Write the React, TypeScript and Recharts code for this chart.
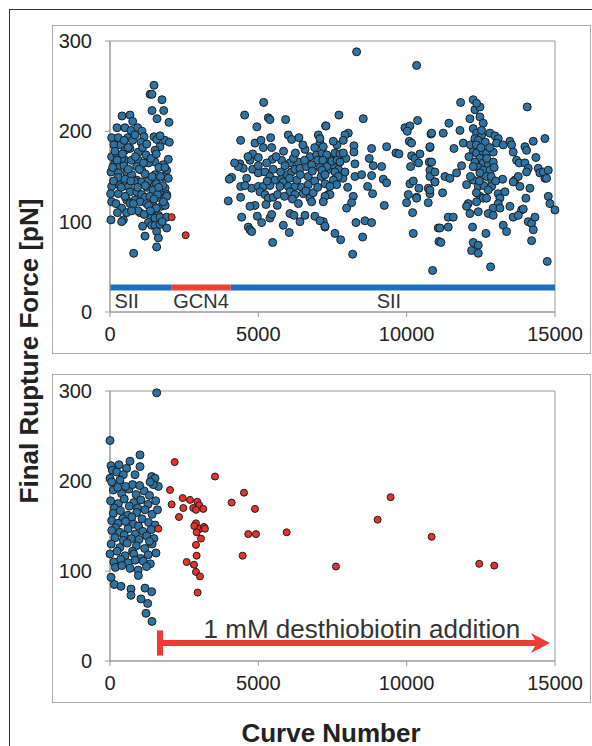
import React from 'react';
import {
  ScatterChart,
  Scatter,
  XAxis,
  YAxis,
  ReferenceArea,
  ReferenceLine,
  ReferenceDot,
} from 'recharts';

// curve number, final rupture force [pN]
const topSII: [number, number][] = [
  // first SII block (curves 0-2000)
  [1483, 251], [1350, 241], [1415, 241], [1752, 235], [1415, 223], [1810, 223], [1584, 214], [1988, 210],
  [404, 217], [674, 218], [765, 211], [236, 204], [505, 204], [708, 201], [933, 204], [1079, 200],
  [56, 193], [281, 193], [596, 193], [1146, 194], [1483, 194], [1573, 191], [1854, 190], [1999, 188], [1045, 188],
  [135, 185], [370, 185], [505, 179], [674, 181], [1685, 183], [1517, 179], [955, 177], [56, 172], [236, 174], [1213, 174],
  [505, 168], [731, 168], [955, 168], [1965, 169], [1517, 166], [135, 163], [303, 162], [472, 162], [1796, 163], [1910, 157],
  [899, 161], [1068, 157], [34, 155], [281, 154], [562, 155], [731, 152], [1180, 153], [1517, 152], [1796, 150], [1965, 148],
  [281, 149], [505, 147], [899, 146], [1068, 144], [1348, 142], [1573, 142], [56, 139], [618, 139], [1247, 138], [1450, 135], [1730, 134],
  [1854, 137], [1910, 130], [22, 131], [281, 131], [674, 133], [899, 133], [1068, 130], [1180, 127], [1348, 128], [1630, 127], [1910, 128],
  [562, 124], [843, 124], [506, 128], [56, 122], [1012, 122], [1236, 120], [1450, 118], [1730, 117], [674, 120], [787, 120], [393, 115],
  [562, 110], [450, 102], [393, 100], [1012, 110], [1450, 111], [1630, 107], [1405, 105], [1517, 104], [1685, 105], [1910, 105], [34, 102],
  [1292, 99], [1405, 96], [1517, 96], [1685, 97], [1910, 93], [1573, 89], [1630, 82], [1180, 84], [1573, 72], [798, 65],
  [170, 178], [400, 170], [620, 158], [820, 145], [1300, 165], [1650, 160], [1100, 182], [760, 190], [330, 140],
  [1290, 145], [1600, 130], [200, 120], [1780, 140], [950, 112], [1150, 108],
  [90, 160], [240, 168], [420, 175], [610, 182], [860, 172], [990, 158], [1130, 165], [1380, 170], [1560, 175], [1700, 150],
  [1850, 160], [120, 145], [380, 138], [700, 145], [930, 138], [1190, 140], [1420, 150], [1640, 138], [1860, 118], [250, 110],
  [730, 112], [1300, 118], [1560, 115], [1760, 100], [1100, 95], [480, 190], [840, 196], [1240, 186], [1690, 195], [1360, 112],
  [1480, 125], [1800, 122],
  // second SII block (curves 4000-15000)
  [5180, 232], [4538, 218], [5336, 215], [5392, 213], [5920, 213], [4954, 205], [4404, 190], [4887, 187], [5089, 190], [5415, 193],
  [6009, 196], [6123, 191], [6369, 193], [7268, 206], [5168, 182], [5449, 182], [4808, 175], [4718, 168], [4999, 171], [5471, 169], [5280, 165],
  [5785, 168], [6066, 165], [6347, 166], [6572, 180], [6740, 172], [6965, 174], [7077, 187], [7021, 196], [4381, 164], [4493, 159], [4325, 161],
  [4808, 158], [4999, 154], [5224, 155], [4606, 148], [4100, 149], [4021, 147], [5392, 150], [5561, 146], [5785, 147],
  [5954, 152], [6123, 155], [6234, 158], [6403, 159], [6628, 161], [6797, 163], [7077, 160], [7302, 165],
  [4775, 137], [4999, 139], [5168, 139], [5392, 140], [5842, 144], [6009, 139], [6234, 139], [6459, 138], [6684, 141], [5729, 139],
  [4404, 139], [4404, 127], [3987, 123], [5055, 133], [5224, 130], [5336, 126], [5505, 127], [6066, 133], [6234, 130], [6515, 131], [6740, 126], [6797, 122],
  [4887, 118], [4718, 117], [5257, 119], [5639, 118], [6066, 109], [6201, 107], [6572, 107], [6908, 106], [6403, 100], [7189, 100], [7246, 94],
  [4438, 105], [4965, 106], [5111, 99], [5392, 104], [5449, 108], [5842, 96], [6043, 88], [4662, 94], [4718, 91], [4775, 89], [5482, 77],
  [5750, 155], [5900, 162], [6050, 148], [6180, 170], [6300, 146], [6420, 152], [6560, 168], [6680, 150], [6820, 156], [6900, 145],
  [7000, 168], [7120, 150], [7250, 142], [7380, 158], [5650, 130], [5880, 128], [6150, 125], [6350, 120], [6600, 134], [6850, 132],
  [7000, 138], [5600, 172], [5850, 178], [6250, 176], [6500, 185], [6900, 182], [7150, 176], [7400, 170], [7550, 162], [7700, 158],
  [7850, 148], [7950, 170], [7650, 185], [7350, 130], [5500, 158], [5300, 145], [5000, 162], [4650, 172], [4550, 140], [4200, 165],
  [8313, 288], [10335, 273], [7717, 218], [8537, 214], [7279, 206], [9942, 204], [10110, 206], [10020, 200], [10368, 212], [10818, 197],
  [8032, 198], [7920, 196], [7863, 190], [7526, 189], [7077, 192], [7189, 183], [10088, 189], [10166, 187], [8223, 184], [8223, 177], [8818, 181], [9324, 183], [10784, 182],
  [7302, 174], [7583, 176], [7751, 175], [7863, 176], [9638, 176], [9739, 175], [10166, 173], [10279, 170], [10447, 175], [10402, 165],
  [8739, 170], [8874, 162], [9156, 161], [10762, 166], [10897, 155], [10953, 144],
  [7178, 168], [7313, 161], [7481, 167], [7650, 168], [7751, 166], [7144, 157], [7246, 152],
  [8257, 164], [8257, 150], [8482, 152], [8818, 151], [10133, 161], [10784, 157],
  [7583, 155], [7920, 155], [7695, 150], [7526, 146], [7639, 141], [7414, 139], [9212, 147], [9324, 143],
  [10110, 142], [10222, 145], [10413, 137], [10335, 127], [10728, 137], [10784, 131], [8683, 139], [8852, 131], [8010, 138],
  [7414, 130], [7246, 128], [7189, 122], [8200, 128], [8144, 121], [7976, 115], [10054, 130], [9998, 121], [10335, 126], [10728, 121],
  [9246, 118], [10200, 110], [8290, 99], [8594, 101], [8818, 99], [7077, 101], [7246, 95], [7583, 87], [7774, 80], [8516, 83], [10222, 87],
  [8179, 64], [10874, 46], [11065, 93], [11088, 78],
  [11818, 232], [12244, 235], [12300, 224], [12469, 227], [12357, 231], [14063, 227],
  [12132, 214], [12469, 216], [12581, 209], [12244, 203], [12357, 198], [12526, 196], [12300, 192], [12413, 190], [12526, 201],
  [11424, 209], [11233, 198], [11795, 201], [11593, 181], [11908, 187], [10841, 198], [10784, 183], [10841, 166],
  [12806, 198], [12974, 195], [13087, 192], [13031, 187], [13256, 185], [13481, 189], [13537, 185],
  [13986, 183], [14042, 179], [14267, 189], [14660, 192],
  [12244, 179], [12357, 176], [12581, 177], [12694, 176], [12918, 177], [12469, 170], [12300, 166], [12581, 165], [12750, 163], [12918, 166],
  [12413, 160], [12581, 157], [12806, 157], [12244, 161], [12469, 154], [12694, 150],
  [13592, 177], [13705, 168], [13794, 165], [13986, 165], [14098, 159], [14042, 155], [14356, 171],
  [14435, 159], [14491, 154], [14660, 148], [14604, 155], [14773, 157], [14716, 148],
  [10784, 150], [10953, 155], [10953, 144], [11290, 150], [11458, 148], [11683, 154], [11852, 162],
  [12244, 146], [12020, 141], [12413, 139], [12863, 146], [12863, 139], [13233, 147], [13087, 131], [13312, 133],
  [13649, 146], [13761, 150], [13818, 139], [13592, 144], [14154, 137], [10784, 135], [11212, 132],
  [12469, 128], [12581, 126], [12694, 126], [12357, 122], [12075, 120], [12020, 117], [13143, 126], [13087, 120], [12918, 115],
  [13143, 115], [13481, 117], [13874, 113], [14019, 126], [14773, 128], [14829, 120], [14997, 113],
  [12132, 109], [12413, 111], [12750, 109], [12918, 107], [13592, 105], [13761, 107], [13930, 114], [14098, 100], [14211, 98], [14323, 105],
  [11121, 93], [11402, 94], [11402, 105], [11571, 105], [12221, 94], [12671, 87], [13256, 96], [13368, 89], [14267, 91],
  [11155, 77], [12244, 77], [12413, 74], [12188, 68], [12413, 65], [14211, 79], [12829, 50], [14738, 56],
  [12150, 185], [12350, 185], [12650, 188], [12100, 172], [12700, 170], [12850, 150], [12150, 150], [12600, 140], [12750, 135],
  [12350, 132], [12950, 160], [13000, 145], [12500, 182], [12800, 182], [12450, 145],
];

const topGCN4: [number, number][] = [[2079, 105], [2551, 85]];

const bottomBefore: [number, number][] = [
  [1573, 298], [0, 245], [1011, 229], [674, 222], [303, 218], [34, 217], [1011, 216], [80, 212], [560, 214],
  [0, 203], [56, 199], [225, 210], [449, 207], [843, 207], [337, 201], [1405, 205], [1517, 203], [1629, 194], [1460, 196], [1350, 199],
  [112, 190], [393, 186], [640, 191], [880, 185], [1150, 189], [1330, 184], [760, 196], [520, 194], [260, 193], [1000, 195],
  [20, 178], [281, 175], [480, 180], [800, 176], [1040, 179], [1280, 174], [1540, 178], [150, 170], [650, 172], [930, 170],
  [112, 164], [350, 167], [600, 162], [899, 165], [1180, 168], [1420, 163], [740, 160], [1600, 168], [430, 158],
  [56, 156], [270, 153], [520, 155], [790, 152], [1080, 158], [1300, 154], [1520, 151], [960, 150], [180, 148],
  [60, 145], [330, 143], [610, 147], [850, 141], [1110, 144], [1390, 146], [720, 136], [480, 140],
  [168, 137], [449, 134], [980, 135], [1240, 139], [1480, 136], [40, 130], [330, 126], [580, 131], [890, 128], [1170, 125], [1420, 130], [760, 122], [1330, 133],
  [0, 119], [240, 122], [510, 117], [800, 119], [1030, 114], [1290, 118], [1550, 120], [130, 110], [360, 113], [620, 109], [850, 112], [1120, 111], [1360, 108],
  [180, 104], [400, 106], [680, 103], [950, 101], [1230, 105],
  [955, 95], [34, 93], [146, 85], [371, 83], [708, 80], [708, 73], [1180, 81], [1405, 77], [1045, 69], [1270, 64], [1213, 53], [1415, 44],
];

const bottomAfter: [number, number][] = [
  [1629, 147], [2180, 221], [3539, 205], [2022, 190], [2450, 181], [2696, 179], [2942, 177], [3009, 173], [2807, 170], [2898, 168], [3144, 169],
  [2079, 174], [2472, 170], [2325, 160], [4516, 187], [4101, 176], [4887, 169],
  [2898, 153], [2841, 150], [3033, 147], [3168, 149], [3201, 147], [2920, 143], [3067, 136], [2898, 129], [2920, 117],
  [4661, 141], [4920, 141], [5955, 143], [4471, 117], [2584, 110], [2831, 107], [2898, 99], [3033, 94], [2954, 76],
  [7616, 105], [9021, 157], [9459, 182], [10841, 138], [12446, 108], [12952, 106],
];

const xTicks = [0, 5000, 10000, 15000];
const yTicks = [0, 100, 200, 300];

// construct segments along the top panel bottom
const constructs = [
  { label: 'SII', from: 0, to: 2080, color: '#1f6fbf', textX: 560 },
  { label: 'GCN4', from: 2080, to: 4070, color: '#e8403a', textX: 3070 },
  { label: 'SII', from: 4070, to: 15000, color: '#1f6fbf', textX: 9400 },
];

const FONT = '"Liberation Sans", Arial, Helvetica, sans-serif';
const BLUE = '#2f73a3';
const RED = '#e8322c';

const toPoints = (arr: [number, number][]) => arr.map(([x, y]) => ({ x, y }));

const dot = (fill: string, r: number) => (props: any) => (
  <circle cx={props.cx} cy={props.cy} r={r} fill={fill} stroke="#1c1c1c" strokeWidth={1} />
);

const tickStyle = { fontSize: 20, fill: '#222', fontFamily: FONT };

function Panel({ top, marginTop, children }: { top: number; marginTop: number; children: React.ReactNode }) {
  return (
    <>
      <div
        style={{
          position: 'absolute',
          left: 52,
          top,
          width: 539,
          height: 329,
          border: '1px solid #aaa',
          boxSizing: 'border-box',
        }}
      />
      <div style={{ position: 'absolute', left: 52, top }}>
        <ScatterChart width={539} height={329} margin={{ top: marginTop, right: 36, bottom: 12, left: 0 }}>
          <XAxis
            type="number"
            dataKey="x"
            domain={[0, 15000]}
            ticks={xTicks}
            height={30}
            stroke="#999"
            tickSize={5}
            tickMargin={10}
            tick={tickStyle}
          />
          <YAxis
            type="number"
            dataKey="y"
            domain={[0, 300]}
            ticks={yTicks}
            width={58}
            stroke="#999"
            tickSize={5}
            tickMargin={13}
            tick={tickStyle}
          />
          <ReferenceArea x1={0} x2={15000} y1={0} y2={300} fill="none" stroke="#999" strokeWidth={1} fillOpacity={0} />
          {children}
        </ScatterChart>
      </div>
    </>
  );
}

export default function App() {
  const labelStyle = { fontSize: 20, fill: '#333', fontFamily: FONT };
  return (
    <div
      style={{
        position: 'fixed',
        left: 0,
        top: 0,
        width: 592,
        height: 746,
        overflow: 'hidden',
        background: '#fff',
        fontFamily: FONT,
      }}
    >
      <div
        style={{
          position: 'absolute',
          left: 9,
          top: 9,
          width: 640,
          height: 800,
          border: '1.5px solid #333',
        }}
      />
      <Panel top={25} marginTop={16}>
        <Scatter data={toPoints(topSII)} shape={dot(BLUE, 4)} isAnimationActive={false} />
        <Scatter data={toPoints(topGCN4)} shape={dot(RED, 3.5)} isAnimationActive={false} />
        {constructs.map((c, i) => (
          <ReferenceLine
            key={`seg-${i}`}
            segment={[{ x: c.from, y: 27 }, { x: c.to, y: 27 }]}
            stroke={c.color}
            strokeWidth={6}
          />
        ))}
        {constructs.map((c, i) => (
          <ReferenceDot
            key={`lab-${i}`}
            x={c.textX}
            y={12}
            r={0}
            fill="none"
            stroke="none"
            label={{ value: c.label, position: 'center', ...labelStyle }}
          />
        ))}
      </Panel>
      <Panel top={374} marginTop={17}>
        <Scatter data={toPoints(bottomBefore)} shape={dot(BLUE, 4)} isAnimationActive={false} />
        <Scatter data={toPoints(bottomAfter)} shape={dot(RED, 3.5)} isAnimationActive={false} />
        <ReferenceLine segment={[{ x: 1685, y: 20 }, { x: 14550, y: 20 }]} stroke="#ec3b35" strokeWidth={6} />
        <ReferenceLine segment={[{ x: 1685, y: 6 }, { x: 1685, y: 34 }]} stroke="#ec3b35" strokeWidth={6} />
        <ReferenceDot
          x={14830}
          y={20}
          r={0}
          fill="none"
          stroke="none"
          shape={(p: any) => (
            <polygon
              points={`${p.cx},${p.cy} ${p.cx - 19},${p.cy - 10} ${p.cx - 13},${p.cy} ${p.cx - 19},${p.cy + 10}`}
              fill="#ec3b35"
            />
          )}
        />
        <ReferenceDot
          x={8490}
          y={36}
          r={0}
          fill="none"
          stroke="none"
          label={{ value: '1 mM desthiobiotin addition', position: 'center', fontSize: 26, fill: '#333', fontFamily: FONT }}
        />
      </Panel>
      <div
        style={{
          position: 'absolute',
          left: 29,
          top: 351,
          transform: 'translate(-50%, -50%) rotate(-90deg)',
          whiteSpace: 'nowrap',
          fontWeight: 'bold',
          fontSize: 26,
          color: '#222',
        }}
      >
        Final Rupture Force [pN]
      </div>
      <div
        style={{
          position: 'absolute',
          left: 331,
          top: 733,
          transform: 'translate(-50%, -50%)',
          whiteSpace: 'nowrap',
          fontWeight: 'bold',
          fontSize: 26,
          color: '#222',
        }}
      >
        Curve Number
      </div>
    </div>
  );
}
